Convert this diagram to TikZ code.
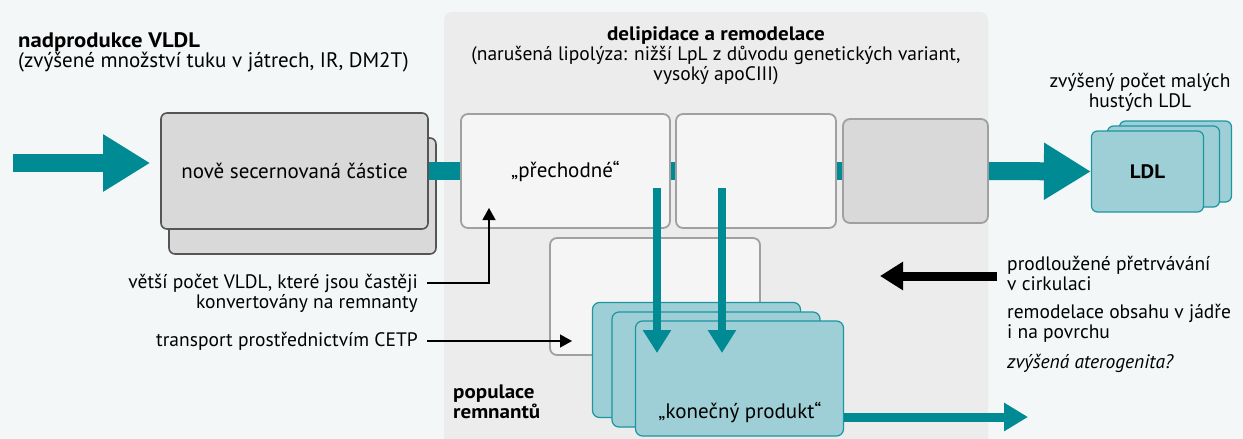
\documentclass[tikz,border=0pt]{standalone}
\usepackage{fontspec}
\setmainfont{PT Sans}[BoldFeatures={FakeStretch=1.08}]
\usetikzlibrary{arrows.meta,positioning,calc}
\definecolor{bgcol}{HTML}{F4F7F7}
\definecolor{panelgray}{HTML}{ECECEC}
\definecolor{boxgray}{HTML}{D9D9D9}
\definecolor{edgedark}{HTML}{555555}
\definecolor{edgepale}{HTML}{A0A0A0}
\definecolor{palefill}{HTML}{F5F5F5}
\definecolor{teal}{HTML}{008B94}
\definecolor{lteal}{HTML}{9FCFD6}
\definecolor{tealedge}{HTML}{1A96A0}
\newcommand{\bodyfont}{\fontsize{19.5}{20}\selectfont}
\newcommand{\headfont}{\fontsize{21}{20}\selectfont}
\tikzset{
    panelsty/.style={fill=panelgray,rounded corners=8pt},
    vldlsty/.style={draw=edgedark,fill=boxgray,line width=1.6pt,rounded corners=6pt,minimum width=267pt,minimum height=116pt},
    palesty/.style={draw=edgepale,fill=palefill,line width=1.8pt,rounded corners=7pt,minimum height=114pt},
    latesty/.style={draw=edgepale,fill=boxgray,line width=1.8pt,rounded corners=7pt,minimum width=145pt,minimum height=104pt},
    remsty/.style={draw=tealedge,fill=lteal,line width=1.2pt,rounded corners=7pt,minimum width=208pt,minimum height=115pt},
    ldlsty/.style={draw=tealedge,fill=lteal,line width=1.2pt,rounded corners=6pt,minimum width=112pt,minimum height=81pt},
    barsty/.style={draw=teal,line width=18pt},
    bigarrsty/.style={draw=teal,line width=18pt,-{Triangle[length=47pt,width=54pt]}},
    downarrsty/.style={draw=teal,line width=8pt,-{Triangle[length=23pt,width=27pt]}},
    outarrsty/.style={draw=teal,line width=9pt,-{Triangle[length=24pt,width=27pt]}},
    blackarrsty/.style={draw=black,line width=9pt,-{Triangle[length=23pt,width=27pt]}},
    thinarrsty/.style={draw=black,line width=1.3pt,-{Triangle[length=12pt,width=13pt]}},
    txtsty/.style={inner sep=0pt,font=\bodyfont},
}

\begin{document}
\begin{tikzpicture}[x=1pt,y=-1pt,>=latex]
  \fill[bgcol] (0,0) rectangle (1243,439);
  \useasboundingbox (0,0) rectangle (1243,439);

  \fill[panelsty] (444,12) rectangle (988,460);

  \node[txtsty,anchor=west,align=left,font=\headfont] (overprod) at (18,52)
    {\textbf{nadprodukce VLDL}\\(zvýšené množství tuku v játrech, IR, DM2T)};
  \node[txtsty,align=center] (delip) at (716,56)
    {\textbf{delipidace a remodelace}\\(narušená lipolýza: nižší LpL z důvodu genetických variant,\\vysoký apoCIII)};

  \node[vldlsty] (vldlb) at (302.5,196) {};
  \node[vldlsty,font=\headfont] (vldl) at (294.5,171) {nově secernovaná částice};

  \coordinate (inflow) at (13,163);
  \draw[bigarrsty,shorten >=10pt] (inflow) -- (inflow -| vldl.west);

  \node[palesty,minimum width=209pt,font=\headfont] (trans) at (565.5,171) {„přechodné“};
  \node[palesty,minimum width=160pt] (mid) at (756,171) {};
  \node[latesty] (late) at (915.5,171) {};

  \draw[barsty] (vldl.east) -- (trans.west);
  \draw[barsty] (trans.east) -- (mid.west);
  \draw[barsty] (mid.east) -- (late.west);

  \node[ldlsty] (ldlc) at (1175.5,161.5) {};
  \node[ldlsty] (ldlb) at (1163.5,166.5) {};
  \node[ldlsty,font=\bodyfont\bfseries] (ldl) at (1147.5,171.5) {LDL};
  \node[txtsty,align=center] (ldlnote) at (1140,92) {zvýšený počet malých\\hustých LDL};
  \draw[bigarrsty] (late.east) -- (ldl.west);

  \node[palesty,minimum width=210pt,minimum height=117pt] (remw) at (655,296.5) {};
  \node[remsty] (rema) at (696.5,360) {};
  \node[remsty] (remb) at (716,369.5) {};
  \node[remsty] (rem) at (739.5,378.5) {};
  \node[txtsty,font=\headfont] (remtxt) at (740,412) {„konečný produkt“};
  \node[txtsty,anchor=west,align=left,font=\bodyfont\bfseries] (remnote) at (453,402) {populace\\remnantů};

  \coordinate (down1) at (657,188);
  \coordinate (down1e) at (657,353);
  \coordinate (down2) at (722,188);
  \coordinate (down2e) at (722,353);
  \draw[downarrsty] (down1) -- (down1e);
  \draw[downarrsty] (down2) -- (down2e);

  \coordinate (outflow) at (1028,417);
  \draw[outarrsty] (rem.east |- outflow) -- (outflow);

  \node[txtsty,anchor=east,align=right] (morevldl) at (418,293)
    {větší počet VLDL, které jsou častěji\\konvertovány na remnanty};
  \node[txtsty,anchor=east] (cetp) at (418,341) {transport prostřednictvím CETP};
  \coordinate (vstart) at (427,283);
  \coordinate (ktip) at (489,208);
  \coordinate (cetptip) at (572,341);
  \draw[thinarrsty] (vstart) -| (ktip);
  \draw[thinarrsty] ([xshift=9pt]cetp.east) -- (cetptip);

  \coordinate (persist) at (997,276);
  \coordinate (persisttip) at (880,276);
  \draw[blackarrsty] (persist) -- (persisttip);
  \node[txtsty,anchor=west,align=left] (persnote) at (1007,273) {prodloužené přetrvávání\\v cirkulaci};
  \node[txtsty,anchor=west,align=left] (corenote) at (1007,323) {remodelace obsahu v jádře\\i na povrchu};
  \node[txtsty,anchor=west,font=\bodyfont\itshape] (athero) at (1007,363) {zvýšená aterogenita?};
\end{tikzpicture}
\end{document}
